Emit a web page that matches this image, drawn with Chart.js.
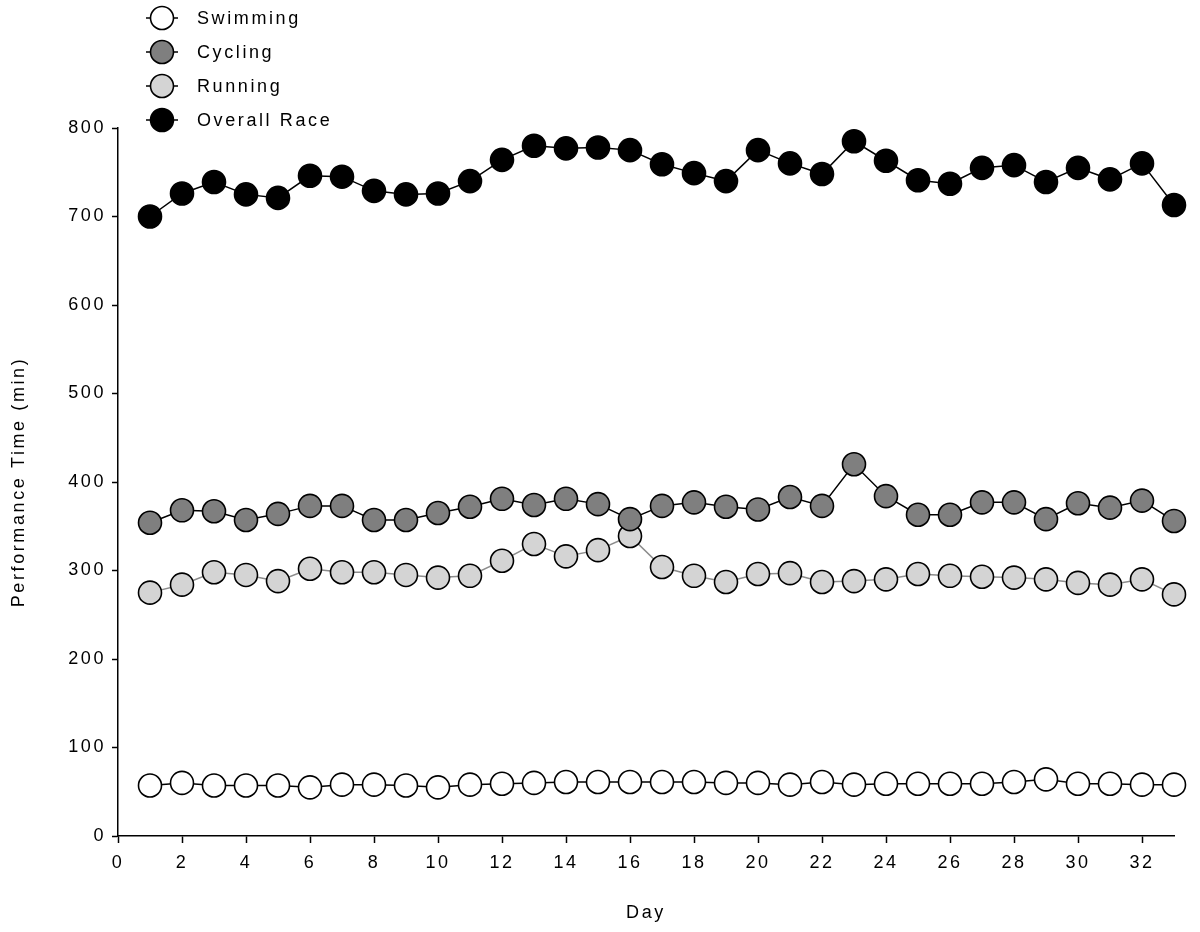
<!DOCTYPE html>
<html>
<head>
<meta charset="utf-8">
<script src="https://cdn.jsdelivr.net/npm/chart.js@4/dist/chart.umd.min.js"></script>
<style>
  body { margin: 0; background: #fff; }
</style>
</head>
<body>
<canvas id="raceChart" width="1200" height="932"></canvas>
<script>
// days of the race
const days = [1, 2, 3, 4, 5, 6, 7, 8, 9, 10, 11, 12, 13, 14, 15, 16, 17,
  18, 19, 20, 21, 22, 23, 24, 25, 26, 27, 28, 29, 30, 31, 32, 33];

// performance times (min)
const swimming = [57, 60, 57, 57, 57, 55, 58, 58, 57, 55, 58, 59, 60, 61, 61, 61, 61,
  61, 60, 60, 58, 61, 58, 59, 59, 59, 59, 61, 64, 59, 59, 58, 58];
const cycling = [354, 368, 367, 357, 364, 373, 373, 357, 357, 365, 372, 381, 374, 381, 375, 358, 373,
  377, 372, 369, 383, 373, 420, 384, 363, 363, 377, 377, 358, 376, 371, 379, 356];
const running = [275, 284, 298, 295, 288, 302, 298, 298, 295, 292, 294, 311, 330, 316, 323, 339, 304,
  294, 287, 296, 297, 287, 288, 290, 296, 294, 293, 292, 290, 286, 284, 290, 273];
const overall = [700, 726, 739, 725, 721, 746, 745, 729, 725, 726, 740, 764, 780, 777, 778, 775, 759,
  749, 740, 775, 760, 748, 785, 763, 741, 737, 755, 758, 739, 755, 742, 760, 713];

// axis ticks
const xTicks = [0, 2, 4, 6, 8, 10, 12, 14, 16, 18, 20, 22, 24, 26, 28, 30, 32];
const yTicks = [0, 100, 200, 300, 400, 500, 600, 700, 800];

const FONT = '"Liberation Sans", Arial, sans-serif';
const SPACING = '2.6px';

function series(label, values, fill, line) {
  return {
    label: label,
    data: days.map((d, i) => ({ x: d, y: values[i] })),
    borderColor: line,
    borderWidth: 1.5,
    pointRadius: 11.5,
    pointHoverRadius: 11.5,
    pointBackgroundColor: fill,
    pointBorderColor: '#000',
    pointBorderWidth: 1.6,
    tension: 0,
    clip: false
  };
}

// spaced-out lettering like the original figure
const spacing = {
  id: 'spacing',
  beforeLayout(chart) { chart.ctx.letterSpacing = SPACING; },
  beforeDraw(chart) { chart.ctx.letterSpacing = SPACING; }
};

// vertical legend with line + marker, top left
const legendBox = {
  id: 'legendBox',
  afterDraw(chart) {
    const ctx = chart.ctx;
    ctx.save();
    ctx.letterSpacing = SPACING;
    chart.data.datasets.forEach((ds, i) => {
      const y = 18 + i * 34;
      ctx.strokeStyle = '#000';
      ctx.lineWidth = 1.5;
      ctx.beginPath();
      ctx.moveTo(146, y);
      ctx.lineTo(178, y);
      ctx.stroke();
      ctx.beginPath();
      ctx.arc(162, y, 11.5, 0, Math.PI * 2);
      ctx.fillStyle = ds.pointBackgroundColor;
      ctx.fill();
      ctx.lineWidth = 1.6;
      ctx.stroke();
      ctx.fillStyle = '#000';
      ctx.font = '18px ' + FONT;
      ctx.textBaseline = 'middle';
      ctx.textAlign = 'left';
      ctx.fillText(ds.label, 197, y + 1);
    });
    ctx.restore();
  }
};

const ctx = document.getElementById('raceChart').getContext('2d');
const raceChart = new Chart(ctx, {
  type: 'line',
  data: {
    datasets: [
      series('Swimming', swimming, '#ffffff', '#000000'),
      series('Cycling', cycling, '#7f7f7f', '#000000'),
      series('Running', running, '#d4d4d4', '#8c8c8c'),
      series('Overall Race', overall, '#000000', '#000000')
    ]
  },
  options: {
    responsive: false,
    animation: false,
    layout: { padding: { left: 0, top: 128, right: 26, bottom: 0 } },
    plugins: { legend: { display: false }, tooltip: { enabled: false } },
    scales: {
      x: {
        type: 'linear',
        min: 0,
        max: 33,
        afterFit(scale) { scale.height = 96; },
        afterBuildTicks(scale) { scale.ticks = xTicks.map(v => ({ value: v })); },
        grid: { drawOnChartArea: false, tickLength: 7, tickColor: '#000', tickWidth: 1.5 },
        border: { color: '#000', width: 1.5 },
        ticks: { color: '#000', font: { family: FONT, size: 18 }, padding: 9, maxRotation: 0, autoSkip: false },
        title: { display: true, text: 'Day', color: '#000', font: { family: FONT, size: 18 }, padding: { top: 0, bottom: 8 } }
      },
      y: {
        min: 0,
        max: 800,
        afterFit(scale) { scale.width = 118; },
        afterBuildTicks(scale) { scale.ticks = yTicks.map(v => ({ value: v })); },
        grid: { drawOnChartArea: false, tickLength: 6, tickColor: '#000', tickWidth: 1.5 },
        border: { color: '#000', width: 1.5 },
        ticks: { color: '#000', font: { family: FONT, size: 18 }, padding: 6 },
        title: { display: true, text: 'Performance Time (min)', color: '#000', font: { family: FONT, size: 18 }, padding: { top: 8, bottom: 0 } }
      }
    }
  },
  plugins: [spacing, legendBox]
});
</script>
</body>
</html>
